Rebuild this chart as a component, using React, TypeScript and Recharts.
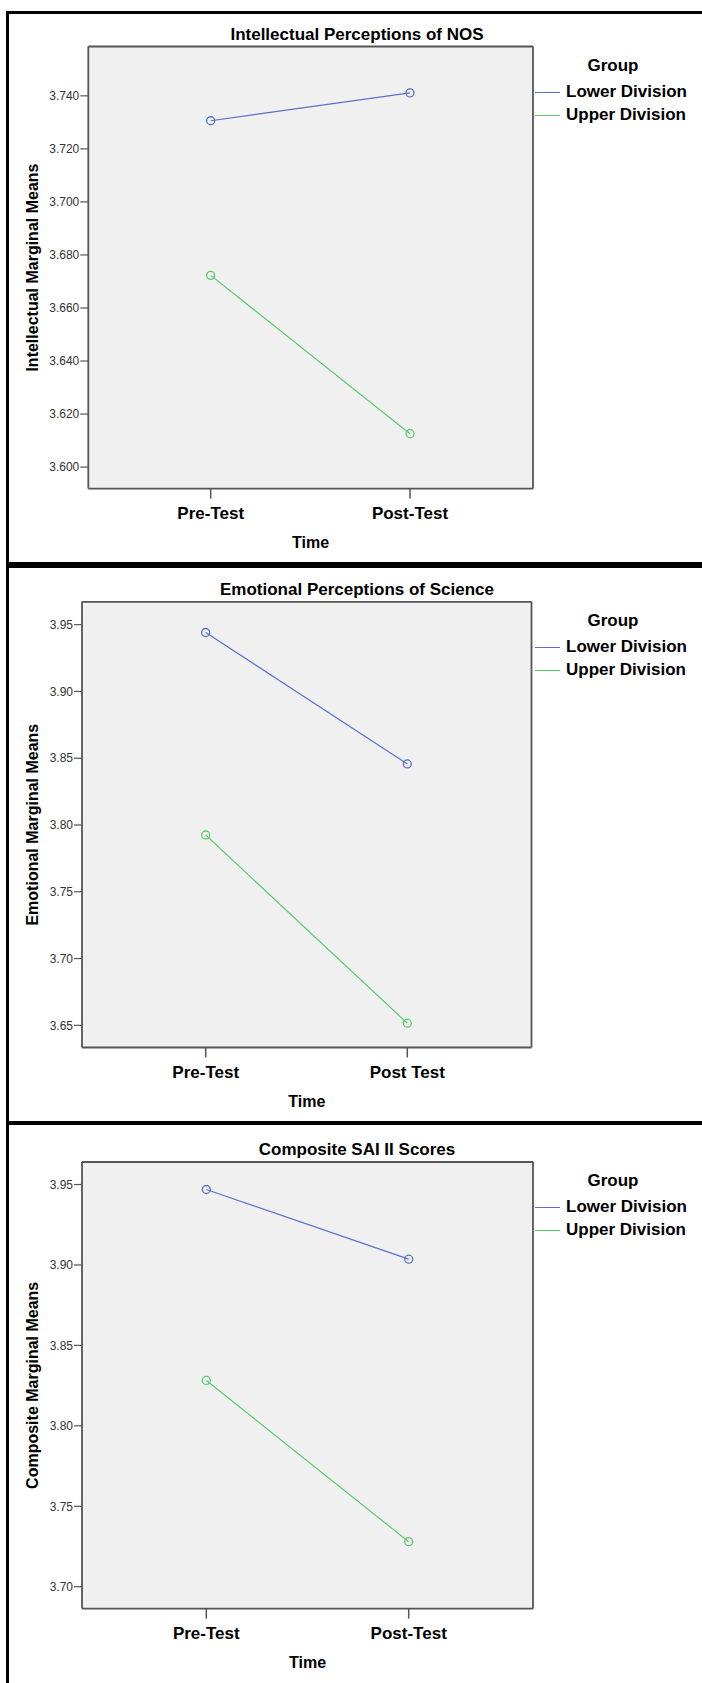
import { CartesianGrid, Legend, Line, LineChart, XAxis, YAxis } from "recharts";

// categories
const intellectualTime = ["Pre-Test", "Post-Test"];
const emotionalTime = ["Pre-Test", "Post Test"];
const compositeTime = ["Pre-Test", "Post-Test"];

// estimated marginal means
const intellectualLower = [3.7306, 3.7411];
const intellectualUpper = [3.6723, 3.6126];
const emotionalLower = [3.9441, 3.8457];
const emotionalUpper = [3.7925, 3.6516];
const compositeLower = [3.9469, 3.9036];
const compositeUpper = [3.8282, 3.728];

// axis ticks and extents
const intellectualTicks = [3.6, 3.62, 3.64, 3.66, 3.68, 3.7, 3.72, 3.74];
const emotionalTicks = [3.65, 3.7, 3.75, 3.8, 3.85, 3.9, 3.95];
const compositeTicks = [3.7, 3.75, 3.8, 3.85, 3.9, 3.95];
const intellectualRange = [3.5919, 3.7586];
const emotionalRange = [3.6334, 3.9671];
const compositeRange = [3.6864, 3.964];

const groups = ["Lower Division", "Upper Division"];

const FONT = '"Liberation Sans", Arial, Helvetica, sans-serif';
const BLUE = "#5b6fc8";
const GREEN = "#5cc96e";
const FRAME = "#555";
const W = 702;
const X_AXIS_H = 62;

interface PanelProps {
  title: string;
  yLabel: string;
  time: string[];
  lower: number[];
  upper: number[];
  ticks: number[];
  range: number[];
  digits: number;
  top: number;
  height: number;
  plotTop: number;
  plotBottom: number;
  plotLeft: number;
  plotRight: number;
  padLeft: number;
  padRight: number;
}

function GroupLegend(props: any) {
  const items = props.payload ?? [];
  return (
    <div style={{ position: "relative", fontFamily: FONT, fontWeight: "bold", fontSize: 17, color: "#000" }}>
      <div style={{ position: "absolute", left: 83, top: 9, lineHeight: "20px", transform: "translateX(-50%)", whiteSpace: "nowrap" }}>
        Group
      </div>
      {items.map((it: any, i: number) => (
        <div key={it.value} style={{ position: "absolute", left: 0, top: 35 + i * 23, height: 20, width: 170 }}>
          <div style={{ position: "absolute", left: 5, top: 10, width: 25, height: 1, background: it.color }} />
          <div style={{ position: "absolute", left: 36, top: 0, lineHeight: "20px", whiteSpace: "nowrap" }}>{it.value}</div>
        </div>
      ))}
    </div>
  );
}

function Panel(p: PanelProps) {
  const rows = p.time.map((t, i) => ({ time: t, lower: p.lower[i], upper: p.upper[i] }));
  // the frame axes on top and right take 1px each
  const margin = {
    top: p.plotTop - p.top - 1,
    left: 0,
    right: W - p.plotRight - 1,
    bottom: p.top + p.height - p.plotBottom - X_AXIS_H,
  };
  const titleY = p.plotTop - 12;
  const frameLine = { stroke: FRAME, strokeWidth: 1.8 };
  return (
    <>
      <div
        style={{
          position: "absolute",
          left: 157,
          width: 400,
          top: titleY - 10,
          lineHeight: "20px",
          textAlign: "center",
          fontFamily: FONT,
          fontWeight: "bold",
          fontSize: 17,
          color: "#000",
        }}
      >
        {p.title}
      </div>
      <div style={{ position: "absolute", left: 0, top: p.top }}>
        <LineChart width={W} height={p.height} data={rows} margin={margin}>
          <CartesianGrid horizontal={false} vertical={false} fill="#f0f0f0" />
          <XAxis
            dataKey="time"
            height={X_AXIS_H}
            padding={{ left: p.padLeft, right: p.padRight }}
            axisLine={frameLine}
            tickSize={10}
            tickMargin={8}
            tickLine={{ stroke: FRAME, strokeWidth: 1.5 }}
            tick={{ fill: "#000", fontSize: 17, fontWeight: "bold", fontFamily: FONT }}
            label={(lp: any) => {
              const vb = lp.viewBox;
              return (
                <text
                  x={vb.x + vb.width / 2}
                  y={vb.y + 54}
                  textAnchor="middle"
                  dominantBaseline="central"
                  fontFamily={FONT}
                  fontWeight="bold"
                  fontSize={16}
                  fill="#000"
                >
                  Time
                </text>
              );
            }}
          />
          <XAxis xAxisId="frameTop" orientation="top" dataKey="time" height={1} tick={false} tickLine={false} axisLine={frameLine} />
          <YAxis
            type="number"
            domain={p.range}
            ticks={p.ticks}
            allowDataOverflow
            width={p.plotLeft}
            axisLine={frameLine}
            tickSize={8}
            tickMargin={1}
            tickLine={{ stroke: FRAME, strokeWidth: 1.2 }}
            tick={{ fill: "#333", fontSize: 12, fontFamily: FONT }}
            tickFormatter={(v: number) => v.toFixed(p.digits)}
            label={(lp: any) => {
              const vb = lp.viewBox;
              const cx = vb.x + 33;
              const cy = vb.y + vb.height / 2;
              return (
                <text
                  x={cx}
                  y={cy}
                  transform={`rotate(-90 ${cx} ${cy})`}
                  textAnchor="middle"
                  dominantBaseline="central"
                  fontFamily={FONT}
                  fontWeight="bold"
                  fontSize={16}
                  fill="#000"
                >
                  {p.yLabel}
                </text>
              );
            }}
          />
          <YAxis
            yAxisId="frameRight"
            orientation="right"
            width={1}
            domain={p.range}
            allowDataOverflow
            tick={false}
            tickLine={false}
            axisLine={frameLine}
          />
          <Legend
            layout="vertical"
            align="right"
            verticalAlign="top"
            content={GroupLegend}
            wrapperStyle={{ left: 530, right: "auto", top: Math.round(p.plotTop - p.top), width: 0, height: 0 }}
          />
          <Line
            type="linear"
            dataKey="lower"
            name={groups[0]}
            stroke={BLUE}
            strokeWidth={1.2}
            dot={{ r: 4, fill: "none", stroke: BLUE, strokeWidth: 1.3 }}
            activeDot={false}
            isAnimationActive={false}
          />
          <Line
            type="linear"
            dataKey="upper"
            name={groups[1]}
            stroke={GREEN}
            strokeWidth={1.2}
            dot={{ r: 4, fill: "none", stroke: GREEN, strokeWidth: 1.3 }}
            activeDot={false}
            isAnimationActive={false}
          />
        </LineChart>
      </div>
    </>
  );
}

export default function App() {
  return (
    <div style={{ position: "absolute", left: 0, top: 0, width: W, height: 1683, background: "#fff", overflow: "hidden" }}>
      <Panel
        title="Intellectual Perceptions of NOS"
        yLabel="Intellectual Marginal Means"
        time={intellectualTime}
        lower={intellectualLower}
        upper={intellectualUpper}
        ticks={intellectualTicks}
        range={intellectualRange}
        digits={3}
        top={14}
        height={548}
        plotTop={46.5}
        plotBottom={488.6}
        plotLeft={88.3}
        plotRight={533}
        padLeft={122.4}
        padRight={123}
      />
      <Panel
        title="Emotional Perceptions of Science"
        yLabel="Emotional Marginal Means"
        time={emotionalTime}
        lower={emotionalLower}
        upper={emotionalUpper}
        ticks={emotionalTicks}
        range={emotionalRange}
        digits={2}
        top={568}
        height={553}
        plotTop={601.8}
        plotBottom={1047.5}
        plotLeft={82}
        plotRight={531.5}
        padLeft={123.7}
        padRight={124.2}
      />
      <Panel
        title="Composite SAI II Scores"
        yLabel="Composite Marginal Means"
        time={compositeTime}
        lower={compositeLower}
        upper={compositeUpper}
        ticks={compositeTicks}
        range={compositeRange}
        digits={2}
        top={1125}
        height={558}
        plotTop={1162}
        plotBottom={1608.6}
        plotLeft={82}
        plotRight={533}
        padLeft={124.3}
        padRight={124.3}
      />
      {/* outer frame and panel separators */}
      <div style={{ position: "absolute", left: 6, top: 11, width: 3, height: 1672, background: "#000" }} />
      <div style={{ position: "absolute", left: 6, top: 11, width: 696, height: 3, background: "#000" }} />
      <div style={{ position: "absolute", left: 6, top: 562, width: 696, height: 6, background: "#000" }} />
      <div style={{ position: "absolute", left: 6, top: 1121, width: 696, height: 3.5, background: "#000" }} />
    </div>
  );
}
